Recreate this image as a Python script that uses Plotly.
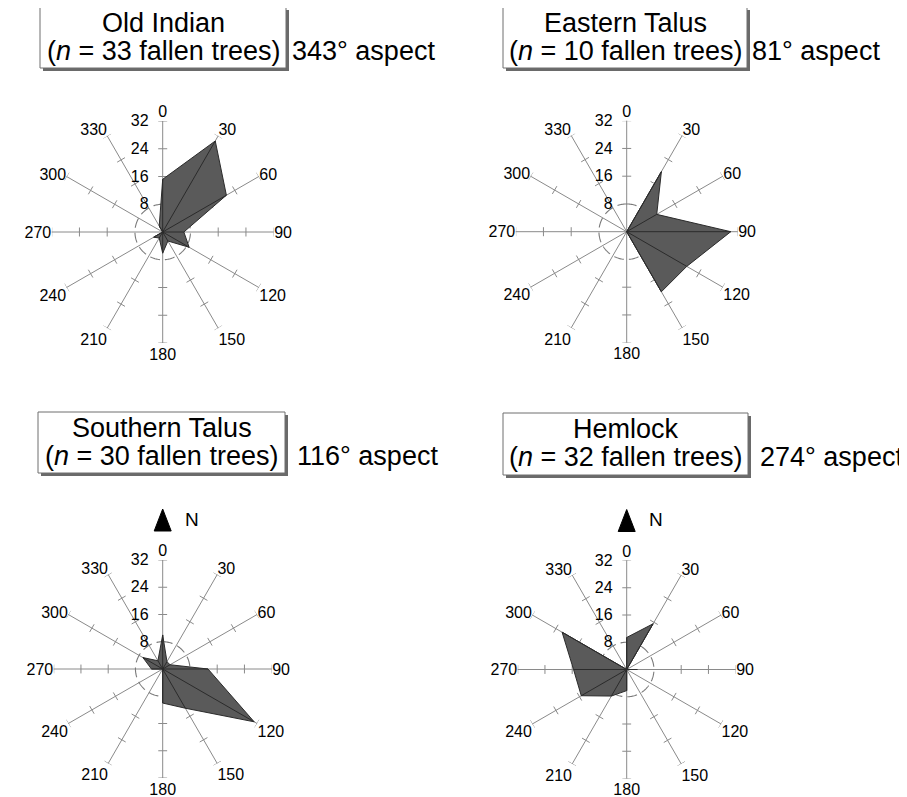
import numpy as np
import plotly.graph_objects as go

# The page body has an 8px margin: the figure starts at window pixel 8
OFF = 8
WIN_W, WIN_H = 907, 797
W, H = WIN_W - OFF, WIN_H - OFF
FONT = "Liberation Sans, Arial, Helvetica, sans-serif"

# ---------------- data ----------------
directions = [0, 30, 60, 90, 120, 150, 180, 210, 240, 270, 300, 330]
direction_labels = [str(d) for d in directions]
radial_ticks = [8, 16, 24, 32]
radial_tick_labels = ["8", "16", "24", "32"]

old_indian = [15.2, 30.3, 21.2, 6.1, 8.8, 3.0, 6.1, 2.0, 3.0, 0, 0, 2.0]
eastern_talus = [0, 20, 10, 30, 20, 20, 0, 0, 0, 0, 0, 0]
southern_talus = [10, 2.5, 2.5, 13.3, 31.0, 13.3, 10, 0, 0, 3.3, 6.7, 2.8]
hemlock = [9.4, 15.5, 0, 3.1, 0, 0, 6.2, 9.0, 15.4, 15.6, 21.9, 0]

site_names = ["Old Indian", "Eastern Talus", "Southern Talus", "Hemlock"]
site_n = [33, 10, 30, 32]
site_aspect = [343, 81, 116, 274]
site_values = [old_indian, eastern_talus, southern_talus, hemlock]

# ---------------- layout geometry (window pixels) ----------------
panels = [
    dict(cx=162.7, cy=232.0, r=111, box=(40, 7, 286, 68), aspect_x=290, north=False),
    dict(cx=626.7, cy=231.7, r=111, box=(503, 7, 747, 68), aspect_x=750, north=False),
    dict(cx=162.7, cy=669.0, r=109, box=(38, 412, 285, 473), aspect_x=295, north=True),
    dict(cx=626.7, cy=669.5, r=109, box=(503, 413, 748, 475), aspect_x=758, north=True),
]


def px(x):
    return (x - OFF) / W


def py(y):
    return 1 - (y - OFF) / H


GRID = "#8a8a8a"
FILL = "#5a5a5a"
EDGE = "#2b2b2b"

fig = go.Figure()
shapes = []
annotations = []

for i, (p, vals) in enumerate(zip(panels, site_values)):
    pid = "polar" if i == 0 else f"polar{i+1}"

    # tick marks on each spoke (16, 24, 32)
    half = 1.3
    tr, tt = [], []
    for d in directions:
        for r in radial_ticks[1:]:
            dd = float(np.degrees(np.arctan(half / r)))
            rr = float(np.hypot(r, half))
            tr += [rr, rr, None]
            tt += [d - dd, d + dd, None]
    fig.add_trace(go.Scatterpolar(r=tr, theta=tt, mode="lines", subplot=pid,
                                  line=dict(color=GRID, width=1), cliponaxis=False,
                                  hoverinfo="skip", showlegend=False))

    # dashed reference circle at the first radial tick
    th = [float(t) for t in np.arange(0, 361, 2)]
    fig.add_trace(go.Scatterpolar(r=[radial_ticks[0]] * len(th), theta=th, mode="lines",
                                  subplot=pid, line=dict(color="#7a7a7a", width=1.1, dash="10px,5px"),
                                  hoverinfo="skip", showlegend=False))

    # north arrow shaft
    if p["north"]:
        fig.add_trace(go.Scatterpolar(r=[32, 40.8], theta=[0, 0], mode="lines", subplot=pid,
                                      line=dict(color=GRID, width=1), cliponaxis=False,
                                      hoverinfo="skip", showlegend=False))

    # rose polygon
    fig.add_trace(go.Scatterpolar(r=vals + [vals[0]], theta=directions + [directions[0]],
                                  mode="lines", fill="toself", fillcolor=FILL, subplot=pid,
                                  line=dict(color=EDGE, width=1), showlegend=False,
                                  name=site_names[i]))
    # internal spokes to vertices
    sr, st = [], []
    for d, v in zip(directions, vals):
        if v > 0:
            sr += [0, v, None]
            st += [d, d, None]
    fig.add_trace(go.Scatterpolar(r=sr, theta=st, mode="lines", subplot=pid,
                                  line=dict(color=EDGE, width=1), hoverinfo="skip",
                                  showlegend=False))

    hx = p["r"] / W
    hy = p["r"] / H
    fig.update_layout(**{pid: dict(
        domain=dict(x=[px(p["cx"]) - hx, px(p["cx"]) + hx],
                    y=[py(p["cy"]) - hy, py(p["cy"]) + hy]),
        bgcolor="rgba(0,0,0,0)",
        angularaxis=dict(rotation=90, direction="clockwise", tickmode="array",
                         tickvals=directions, ticktext=direction_labels,
                         showgrid=True, gridcolor=GRID, gridwidth=1, showline=False,
                         ticks="",
                         tickfont=dict(size=16, color="black", family=FONT)),
        radialaxis=dict(range=[0, 32], tickmode="array", tickvals=radial_ticks,
                        ticktext=radial_tick_labels, showgrid=False, showline=False,
                        ticks="outside", ticklen=8, tickcolor="rgba(0,0,0,0)",
                        side="counterclockwise", angle=90, tickangle=90,
                        tickfont=dict(size=16, color="black", family=FONT)),
    )})

    # title box with shadow
    x0, y0, x1, y1 = p["box"]
    shapes.append(dict(type="rect", xref="paper", yref="paper",
                       x0=px(x0 + 3), x1=px(x1 + 3), y0=py(y1 + 3), y1=py(y0 + 3),
                       fillcolor="#6a6a6a", line=dict(width=0), layer="above"))
    shapes.append(dict(type="rect", xref="paper", yref="paper",
                       x0=px(x0), x1=px(x1), y0=py(y1), y1=py(y0),
                       fillcolor="white", line=dict(color="#6e6e6e", width=1), layer="above"))
    bx = (x0 + x1) / 2
    annotations.append(dict(xref="paper", yref="paper", x=px(bx), y=py(y0 + 16),
                            text=site_names[i], showarrow=False, xanchor="center",
                            yanchor="middle", font=dict(size=27, color="black", family=FONT)))
    annotations.append(dict(xref="paper", yref="paper", x=px(bx), y=py(y0 + 44),
                            text=f"(<i>n</i> = {site_n[i]} fallen trees)", showarrow=False,
                            xanchor="center", yanchor="middle",
                            font=dict(size=27, color="black", family=FONT)))
    annotations.append(dict(xref="paper", yref="paper", x=px(p["aspect_x"]), y=py(y0 + 44),
                            text=f"{site_aspect[i]}° aspect", showarrow=False,
                            xanchor="left", yanchor="middle",
                            font=dict(size=27, color="black", family=FONT)))

    if p["north"]:
        cx, cy = p["cx"], p["cy"]
        shapes.append(dict(type="path", xref="paper", yref="paper",
                           path=f"M {px(cx)} {py(cy-160)} L {px(cx+8.5)} {py(cy-138)} "
                                f"L {px(cx-8.5)} {py(cy-138)} Z",
                           fillcolor="black", line=dict(color="black", width=1), layer="above"))
        annotations.append(dict(xref="paper", yref="paper", x=px(cx + 29), y=py(cy - 150),
                                text="N", showarrow=False, xanchor="center", yanchor="middle",
                                font=dict(size=19, color="black", family=FONT)))

fig.update_layout(width=W, height=H, margin=dict(l=0, r=0, t=0, b=0),
                  paper_bgcolor="white", plot_bgcolor="white",
                  shapes=shapes, annotations=annotations, showlegend=False)

fig.write_html("out.html")
